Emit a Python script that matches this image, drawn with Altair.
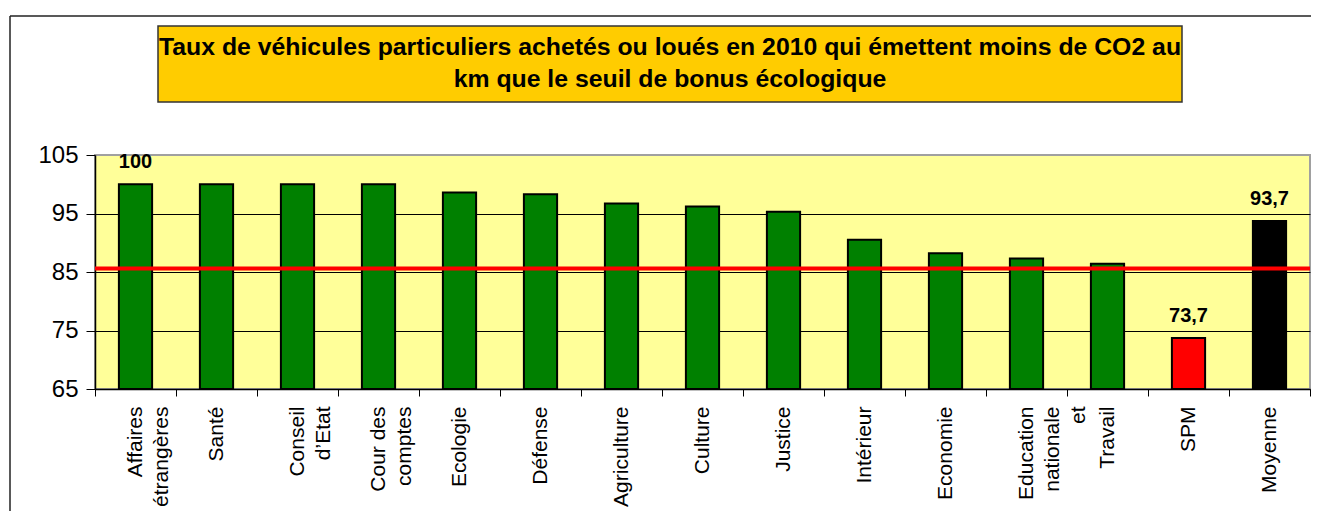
import altair as alt
import pandas as pd

# ---- data ----
categories = [
    "Affaires\nétrangères", "Santé", "Conseil\nd’Etat", "Cour des\ncomptes",
    "Ecologie", "Défense", "Agriculture", "Culture", "Justice", "Intérieur",
    "Economie", "Education\nnationale\net", "Travail", "SPM", "Moyenne",
]
values = [100, 100, 100, 100, 98.6, 98.3, 96.7, 96.2, 95.3, 90.5,
          88.2, 87.3, 86.4, 73.7, 93.7]
bar_colors = ["#008000"] * 13 + ["#FF0000", "#000000"]
value_labels = ["100"] + [""] * 12 + ["73,7", "93,7"]
threshold = [85.6]
y_ticks = [65, 75, 85, 95, 105]
y_min, y_max = 65, 105
title_lines = [
    "Taux de véhicules particuliers achetés ou loués en 2010 qui émettent moins de CO2 au",
    "km que le seuil de bonus écologique",
]

FONT = "Liberation Sans"

df = pd.DataFrame({
    "cat": categories,
    "value": values,
    "base": [y_min] * len(values),
    "color": bar_colors,
    "label": value_labels,
})

x_enc = alt.X(
    "cat:N", sort=categories,
    scale=alt.Scale(paddingInner=0, paddingOuter=0),
    axis=alt.Axis(
        title=None, labelAngle=270, labelAlign="right", labelBaseline="middle",
        labelExpr="isString(datum.value) ? split(datum.value, '\\n') : ''",
        labelFont=FONT, labelFontSize=21, labelColor="black",
        labelLineHeight=26, labelPadding=10, labelLimit=400,
        tickBand="extent", tickSize=7, tickColor="black",
        domainColor="black", domainWidth=1.5, grid=False, zindex=1,
    ),
)
y_enc = alt.Y(
    "value:Q",
    scale=alt.Scale(domain=[y_min, y_max], nice=False, zero=False),
    axis=alt.Axis(
        title=None, values=y_ticks, labelFont=FONT, labelFontSize=24,
        labelColor="black", labelPadding=8, tickSize=9, tickColor="black",
        domainColor="black", domainWidth=1.5, grid=True,
        gridColor={"condition": {"test": "datum.value == 105", "value": "#A0A0A0"},
                   "value": "black"},
        gridWidth=1,
    ),
)

base = alt.Chart(df)

bars = base.mark_bar(
    stroke="black", strokeWidth=2, width=alt.RelativeBandSize(0.41)
).encode(x=x_enc, y=y_enc, y2="base:Q", color=alt.Color("color:N", scale=None))

texts = base.mark_text(
    font=FONT, fontSize=20, fontWeight="bold", baseline="alphabetic", dy=-16,
    color="black",
).encode(x=alt.X("cat:N", sort=categories), y="value:Q", text="label:N")

seuil = alt.Chart(pd.DataFrame({"seuil": threshold})).mark_rule(
    color="#FF0000", strokeWidth=4
).encode(y="seuil:Q")

one = pd.DataFrame({"k": [0]})

title_box = alt.Chart(one).mark_rect(
    fill="#FFCC00", stroke="#333333", strokeWidth=1.5
).encode(
    x=alt.value(63), x2=alt.value(1087), y=alt.value(-129), y2=alt.value(-53)
)

title_text = alt.Chart(one).mark_text(
    text=title_lines, font=FONT, fontSize=24.8, fontWeight="bold",
    lineHeight=32, align="center", baseline="middle", color="black",
).encode(x=alt.value(575), y=alt.value(-107))

frame_left = alt.Chart(one).mark_rule(color="#222222", strokeWidth=1.5).encode(
    x=alt.value(-85), y=alt.value(-139), y2=alt.value(380)
)
frame_top = alt.Chart(one).mark_rule(color="#222222", strokeWidth=1.5).encode(
    x=alt.value(-85), x2=alt.value(1240), y=alt.value(-139)
)

chart = alt.layer(
    frame_left, frame_top, title_box, title_text, bars, seuil, texts
).properties(
    width=1215, height=234,
    autosize=alt.AutoSizeParams(type="none"),
    padding={"left": 87, "top": 147, "right": 1, "bottom": 122},
    background="white",
).configure_view(
    fill="#FFFF99", stroke="#A0A0A0", strokeWidth=2
)

chart.save("out.html", embed_options={"renderer": "svg", "actions": False})
